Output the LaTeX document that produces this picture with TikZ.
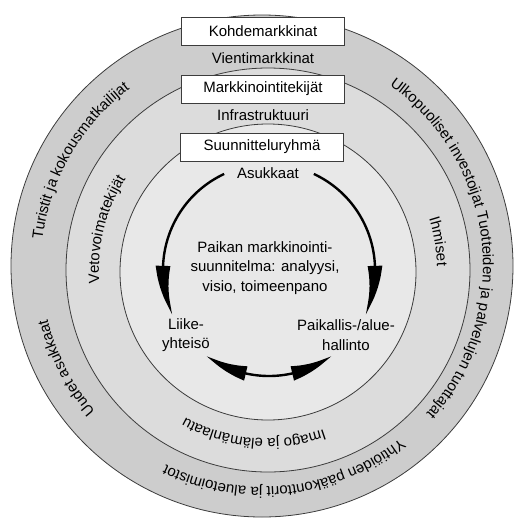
\documentclass[tikz,border=0pt]{standalone}
\usepackage{fontspec}
\setmainfont{Liberation Sans}
\usetikzlibrary{arrows.meta,bending,decorations.text}

\definecolor{ringline}{RGB}{60,60,60}
\definecolor{outerfill}{RGB}{205,205,205}
\definecolor{midfill}{RGB}{220,220,220}
\definecolor{innerfill}{RGB}{232,232,232}
\newcommand\ringfont{\fontsize{15}{19.5}\selectfont}

\tikzset{
  ring/.style={draw=ringline, line width=0.8pt},
  labelbox/.style={draw=ringline, fill=white, line width=0.8pt, minimum width=163pt, minimum height=28pt, inner sep=0pt, font=\ringfont},
  plain/.style={font=\ringfont, inner sep=0pt, align=center},
  ringtext/.style={decorate, decoration={text along path, text align=center, text={|\ringfont|#1}}},
  cyclearrow/.style={line width=2.4pt, -{Triangle[length=52pt,width=14pt,bend]}},
  bothways/.style={line width=2.4pt, {Triangle[length=44pt,width=14pt,bend]}-{Triangle[length=44pt,width=14pt,bend]}},
}

\begin{document}
\begin{tikzpicture}[x=1pt, y=1pt]
\useasboundingbox (0,0) rectangle (520,-523);

\coordinate (outc) at (262,-266);
\coordinate (midc) at (268,-270);
\coordinate (innc) at (268,-272);
\coordinate (cyc) at (269,-270);

\draw[ring, fill=outerfill] (outc) circle[radius=251pt];
\draw[ring, fill=midfill] (midc) circle[radius=202pt];
\draw[ring, fill=innerfill] (innc) circle[radius=148pt];

\node[labelbox] (kohde) at (263,-31.5) {Kohdemarkkinat};
\node[labelbox] (markk) at (263,-89) {Markkinointitekijät};
\node[labelbox] (suunn) at (262,-147) {Suunnitteluryhmä};

\node[plain] (vienti) at (263,-58) {Vientimarkkinat};
\node[plain] (infra) at (263,-115) {Infrastruktuuri};
\node[plain] (asuk) at (268,-173) {Asukkaat};
\node[plain] (plan) at (265,-268) {Paikan markkinointi-\\suunnitelma: analyysi,\\visio, toimeenpano};
\node[plain] (liike) at (186,-335) {Liike-\\yhteisö};
\node[plain] (paik) at (346,-335) {Paikallis-/alue-\\hallinto};

\path[ringtext={Turistit ja kokousmatkailijat}] (outc) ++(210:221pt) arc[start angle=210, end angle=90, radius=221pt];
\path[ringtext={Ulkopuoliset investoijat}] (outc) ++(75:221pt) arc[start angle=75, end angle=-5, radius=221pt];
\path[ringtext={Tuotteiden ja palvelujen tuottajat}] (outc) ++(30:221pt) arc[start angle=30, end angle=-58, radius=221pt];
\path[ringtext={Uudet asukkaat}] (outc) ++(240:221pt) arc[start angle=240, end angle=175, radius=221pt];
\path[ringtext={Yhtiöiden pääkonttorit ja aluetoimistot}] (outc) ++(-20:221pt) arc[start angle=-20, end angle=-147, radius=221pt];

\path[ringtext={Vetovoimatekijät}] (midc) ++(210:169pt) arc[start angle=210, end angle=122, radius=169pt];
\path[ringtext={Ihmiset}] (midc) ++(35:169pt) arc[start angle=35, end angle=-16, radius=169pt];
\path[ringtext={Imago ja elämänlaatu}] (midc) ++(-55:169pt) arc[start angle=-55, end angle=-135, radius=169pt];

\path (cyc) ++(115:106pt) coordinate (lstart);
\path (cyc) ++(65:106pt) coordinate (rstart);
\path (cyc) ++(234:106pt) coordinate (bstart);

\draw[cyclearrow] (lstart) arc[start angle=115, end angle=205, radius=106pt];
\draw[cyclearrow] (rstart) arc[start angle=65, end angle=-25, radius=106pt];
\draw[bothways] (bstart) arc[start angle=234, end angle=306, radius=106pt];
\end{tikzpicture}
\end{document}
